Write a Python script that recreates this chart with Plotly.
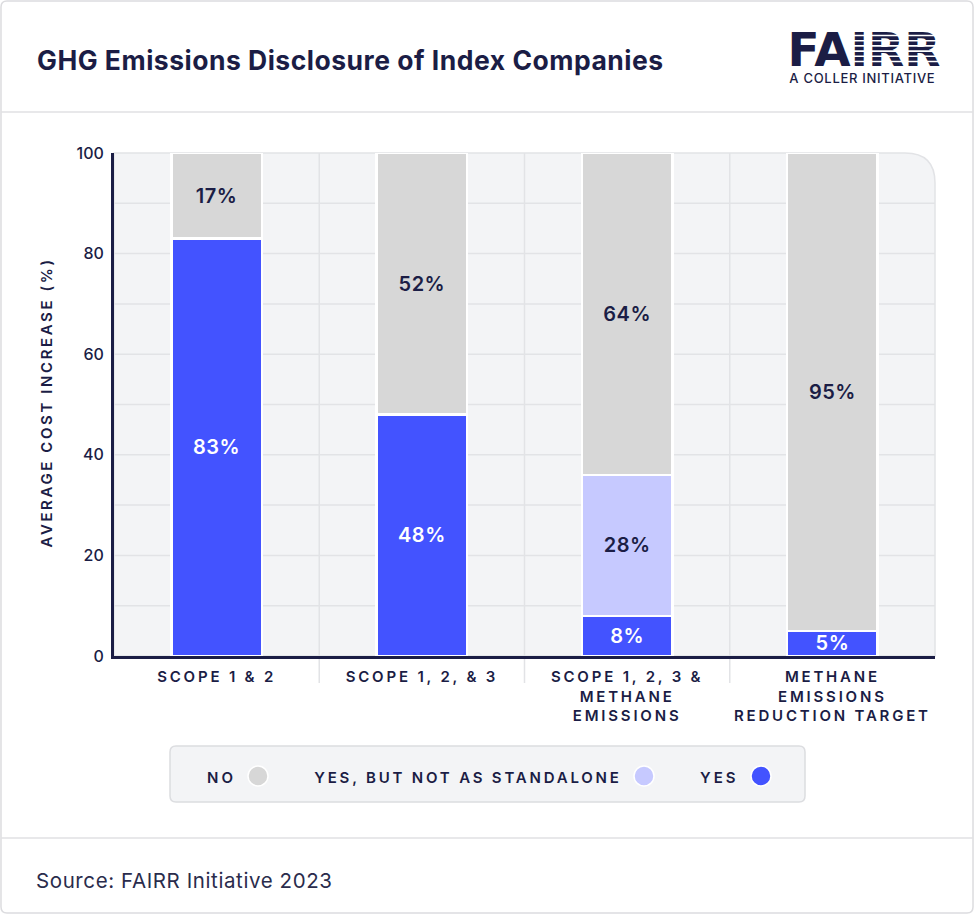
import plotly.graph_objects as go

# ---------------- data ----------------
categories = [
    "SCOPE 1 & 2",
    "SCOPE 1, 2, & 3",
    "SCOPE 1, 2, 3 &<br>METHANE<br>EMISSIONS",
    "METHANE<br>EMISSIONS<br>REDUCTION TARGET",
]
yes_vals = [83, 48, 8, 5]
partial_vals = [None, None, 28, None]
no_vals = [17, 52, 64, 95]
series_names = ["YES", "YES, BUT NOT AS STANDALONE", "NO"]
legend_labels = ["NO", "YES, BUT NOT AS STANDALONE", "YES"]
y_tick_vals = [0, 20, 40, 60, 80, 100]
y_grid_vals = [10, 20, 30, 40, 50, 60, 70, 80, 90]

title_text = "GHG Emissions Disclosure of Index Companies"
y_title = "AVERAGE COST INCREASE (%)"
source_text = "Source: FAIRR Initiative 2023"

# ---------------- style ----------------
W, H = 975, 915
L, R, T, B = 114, 40, 153, 259
PW, PH = W - L - R, H - T - B
NAVY = "#1b1d45"
BLUE = "#4353ff"
LIGHT = "#c6c9ff"
GRAY = "#d7d7d7"
GRID = "#e2e3e6"
BG = "#f3f4f6"
FONT = "Inter"


def px(x):
    return (x - L) / PW


def py(y):
    return (H - B - y) / PH


def rounded_path(x0, y0, x1, y1, r, corners=("tl", "tr", "br", "bl")):
    def P(x, y):
        return f"{px(x):.5f},{py(y):.5f}"
    rtl = r if "tl" in corners else 0
    rtr = r if "tr" in corners else 0
    rbr = r if "br" in corners else 0
    rbl = r if "bl" in corners else 0
    d = f"M {P(x0 + rtl, y0)} L {P(x1 - rtr, y0)} "
    d += f"Q {P(x1, y0)} {P(x1, y0 + rtr)} " if rtr else ""
    d += f"L {P(x1, y1 - rbr)} "
    d += f"Q {P(x1, y1)} {P(x1 - rbr, y1)} " if rbr else ""
    d += f"L {P(x0 + rbl, y1)} "
    d += f"Q {P(x0, y1)} {P(x0, y1 - rbl)} " if rbl else ""
    d += f"L {P(x0, y0 + rtl)} "
    d += f"Q {P(x0, y0)} {P(x0 + rtl, y0)} " if rtl else ""
    return d + "Z"


fig = go.Figure()

series = [
    (series_names[0], yes_vals, BLUE, "white"),
    (series_names[1], partial_vals, LIGHT, NAVY),
    (series_names[2], no_vals, GRAY, NAVY),
]
for name, vals, color, tcolor in series:
    fig.add_trace(go.Bar(
        x=categories, y=vals, name=name,
        marker=dict(color=color, line=dict(color="white", width=2.5)),
        width=0.44,
        texttemplate="%{y}%", textposition="inside", insidetextanchor="middle",
        textangle=0, constraintext="none",
        textfont=dict(family=FONT, size=20, color=tcolor, weight=600),
        hoverinfo="skip", showlegend=False,
    ))

shapes = []
# outer card border
shapes.append(dict(type="path", xref="paper", yref="paper",
                   path=rounded_path(1, 1, W - 2, H - 2, 6),
                   line=dict(color="#dcdcdf", width=1.5), fillcolor="rgba(0,0,0,0)", layer="below"))
# header & footer separators
for yy in (112, 838):
    shapes.append(dict(type="line", xref="paper", yref="paper",
                       x0=px(1), x1=px(W - 2), y0=py(yy), y1=py(yy),
                       line=dict(color="#e0e0e3", width=1.5), layer="below"))
# plot background with rounded top-right corner
shapes.append(dict(type="path", xref="paper", yref="paper",
                   path=rounded_path(L, T, L + PW, T + PH, 30, corners=("tr",)),
                   fillcolor=BG, line=dict(color=GRID, width=1.5), layer="below"))
# horizontal grid
for g in y_grid_vals:
    shapes.append(dict(type="line", xref="paper", yref="y", x0=0, x1=1, y0=g, y1=g,
                       line=dict(color=GRID, width=1.5), layer="below"))
# vertical grid at category boundaries (extends below the axis)
n = len(categories)
for k in range(1, n):
    shapes.append(dict(type="line", xref="paper", yref="paper", x0=k / n, x1=k / n,
                       y0=py(683), y1=1, line=dict(color=GRID, width=1.5), layer="below"))

# legend box
lg_y0, lg_y1 = 746, 802
shapes.append(dict(type="path", xref="paper", yref="paper",
                   path=rounded_path(170, lg_y0, 805, lg_y1, 6),
                   fillcolor=BG, line=dict(color="#dcdde0", width=1.5), layer="below"))
legend_items = [(legend_labels[0], GRAY, 258), (legend_labels[1], LIGHT, 644), (legend_labels[2], BLUE, 761)]
annotations = []
cy = 776
for label, col, cx in legend_items:
    r = 10
    shapes.append(dict(type="circle", xref="paper", yref="paper",
                       x0=px(cx - r), x1=px(cx + r), y0=py(cy + r), y1=py(cy - r),
                       fillcolor=col, line=dict(color="white", width=1.5), layer="above"))
    annotations.append(dict(text=label, xref="paper", yref="paper", x=px(cx - 20), y=py(cy + 1),
                            xanchor="right", yanchor="middle", align="right", showarrow=False,
                            font=dict(family=FONT, size=15, color=NAVY, weight=600)))

# FAIRR logo (shape label so that white stripes can be drawn over it)
shapes.append(dict(type="rect", xref="paper", yref="paper",
                   x0=px(776), x1=px(952), y0=py(71), y1=py(21),
                   line=dict(width=0), fillcolor="rgba(0,0,0,0)", layer="above",
                   label=dict(text="FAIRR", textposition="middle center",
                              font=dict(family="DejaVu Sans", size=47, color=NAVY, weight=700))))
for sy in (35.5, 40.7, 45.9, 51.1, 56.3, 61.5):
    shapes.append(dict(type="line", xref="paper", yref="paper",
                       x0=px(851), x1=px(946), y0=py(sy), y1=py(sy),
                       line=dict(color="white", width=1.6), layer="above"))

annotations += [
    dict(text=title_text, xref="paper", yref="paper", x=px(35), y=py(60),
         xanchor="left", yanchor="middle", align="left", showarrow=False,
         font=dict(family=FONT, size=26.5, color=NAVY, weight=700)),
    dict(text="A COLLER INITIATIVE", xref="paper", yref="paper", x=px(862), y=py(78),
         xanchor="center", yanchor="middle", showarrow=False,
         font=dict(family=FONT, size=13, color=NAVY, weight=500)),
    dict(text=source_text, xref="paper", yref="paper", x=px(34), y=py(880),
         xanchor="left", yanchor="middle", align="left", showarrow=False,
         font=dict(family=FONT, size=20.5, color="#2a2c4c", weight=400)),
    dict(text=y_title, xref="paper", yref="paper", x=px(46), y=py(403),
         xanchor="center", yanchor="middle", showarrow=False, textangle=-90,
         font=dict(family=FONT, size=15, color=NAVY, weight=600)),
]

fig.update_layout(
    width=W, height=H,
    margin=dict(l=L, r=R, t=T, b=B, autoexpand=False),
    paper_bgcolor="white", plot_bgcolor="rgba(0,0,0,0)",
    barmode="stack", bargap=0.56,
    shapes=shapes, annotations=annotations,
    showlegend=False,
    font=dict(family=FONT, color=NAVY),
    xaxis=dict(showgrid=False, showline=True, linecolor=NAVY, linewidth=3,
               ticks="", ticklabelstandoff=5,
               tickfont=dict(family=FONT, size=15, color=NAVY, weight=600),
               fixedrange=True, range=[-0.5, 3.5]),
    yaxis=dict(range=[0, 100], tickvals=y_tick_vals, showgrid=False, zeroline=False,
               showline=True, linecolor=NAVY, linewidth=3, ticks="",
               ticklabelstandoff=4,
               tickfont=dict(family=FONT, size=16, color=NAVY, weight=500),
               fixedrange=True),
)

post_js = """
document.body.style.margin = '0';
document.body.style.overflow = 'hidden';
var gd = document.getElementById('{plot_id}');
function applyLS() {
  gd.querySelectorAll('.xtick text').forEach(function (t) { t.style.letterSpacing = '2.8px'; });
  gd.querySelectorAll('text.bartext').forEach(function (t) { t.style.letterSpacing = '0.5px'; });
  var sp = {'0': '3px', '1': '2.8px', '2': '3px', '3': '0.5px', '4': '0.7px', '5': '0.6px', '6': '2.6px'};
  gd.querySelectorAll('g.annotation').forEach(function (g) {
    var i = g.getAttribute('data-index');
    if (sp[i] !== undefined) {
      g.querySelectorAll('text').forEach(function (t) { t.style.letterSpacing = sp[i]; });
    }
  });
}
applyLS();
setTimeout(applyLS, 100);
setTimeout(applyLS, 500);
if (gd.on) { gd.on('plotly_afterplot', applyLS); }
"""

fig.write_html("out.html", post_script=post_js, config={"displayModeBar": False})
